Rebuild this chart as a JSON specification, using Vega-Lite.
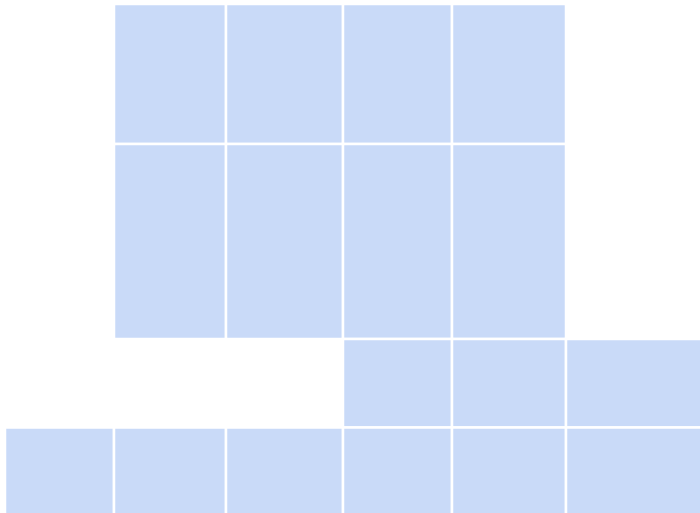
{
  "$schema": "https://vega.github.io/schema/vega-lite/v6.json",
  "width": 700,
  "height": 513,
  "padding": {"left": 3, "top": 2, "right": 0, "bottom": 0},
  "background": "white",
  "config": {"view": {"stroke": null}},
  "data": {
    "values": [
      {"row": "A", "col": 2, "x0": 109, "x1": 221, "y0": 0, "y1": 140},
      {"row": "A", "col": 3, "x0": 221, "x1": 338, "y0": 0, "y1": 140},
      {"row": "A", "col": 4, "x0": 338, "x1": 447, "y0": 0, "y1": 140},
      {"row": "A", "col": 5, "x0": 447, "x1": 561, "y0": 0, "y1": 140},
      {"row": "B", "col": 2, "x0": 109, "x1": 221, "y0": 140, "y1": 335},
      {"row": "B", "col": 3, "x0": 221, "x1": 338, "y0": 140, "y1": 335},
      {"row": "B", "col": 4, "x0": 338, "x1": 447, "y0": 140, "y1": 335},
      {"row": "B", "col": 5, "x0": 447, "x1": 561, "y0": 140, "y1": 335},
      {"row": "C", "col": 4, "x0": 338, "x1": 447, "y0": 335, "y1": 423.5},
      {"row": "C", "col": 5, "x0": 447, "x1": 561, "y0": 335, "y1": 423.5},
      {"row": "C", "col": 6, "x0": 561, "x1": 700, "y0": 335, "y1": 423.5},
      {"row": "D", "col": 1, "x0": 0, "x1": 109, "y0": 423.5, "y1": 513},
      {"row": "D", "col": 2, "x0": 109, "x1": 221, "y0": 423.5, "y1": 513},
      {"row": "D", "col": 3, "x0": 221, "x1": 338, "y0": 423.5, "y1": 513},
      {"row": "D", "col": 4, "x0": 338, "x1": 447, "y0": 423.5, "y1": 513},
      {"row": "D", "col": 5, "x0": 447, "x1": 561, "y0": 423.5, "y1": 513},
      {"row": "D", "col": 6, "x0": 561, "x1": 700, "y0": 423.5, "y1": 513}
    ]
  },
  "mark": {"type": "rect", "fill": "#c9daf8", "stroke": "white", "strokeWidth": 2.5},
  "encoding": {
    "x": {"field": "x0", "type": "quantitative", "scale": {"domain": [0, 700], "nice": false, "zero": false}, "axis": null},
    "x2": {"field": "x1"},
    "y": {"field": "y0", "type": "quantitative", "scale": {"domain": [0, 513], "nice": false, "zero": false, "reverse": true}, "axis": null},
    "y2": {"field": "y1"}
  }
}
